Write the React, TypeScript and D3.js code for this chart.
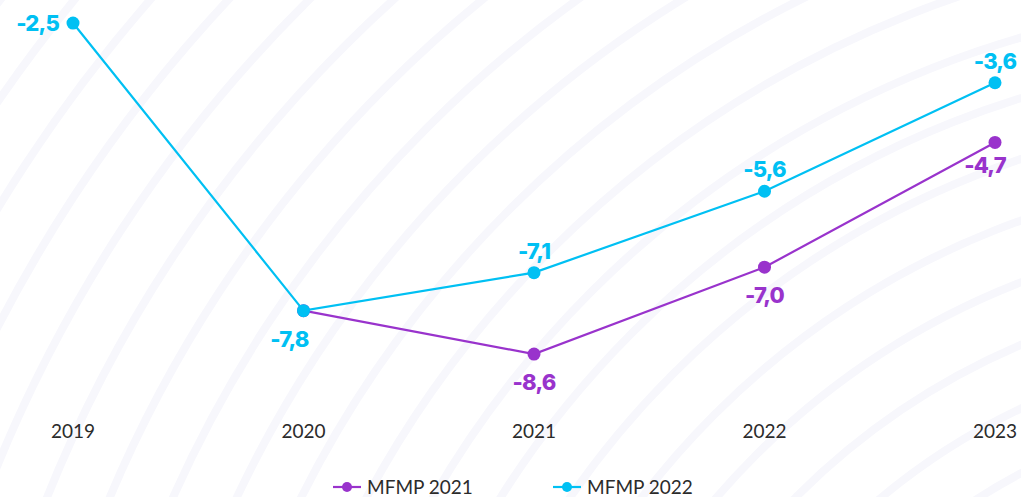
import * as d3 from "d3";
import React, { useEffect, useRef } from "react";

const years = ["2019", "2020", "2021", "2022", "2023"];
const mfmp2021: (number | null)[] = [null, -7.8, -8.6, -7.0, -4.7];
const mfmp2022: (number | null)[] = [-2.5, -7.8, -7.1, -5.6, -3.6];
const seriesNames = ["MFMP 2021", "MFMP 2022"];
// label placement per point: "l" left, "a" above, "b" below, "n" none
const pos2021 = ["n", "n", "b", "b", "b"];
const pos2022 = ["l", "b", "a", "a", "a"];

const width = 1021;
const height = 497;
const cyan = "#00c0f3";
const purple = "#9933cc";

const App = () => {
  const ref = useRef<HTMLDivElement>(null);

  useEffect(() => {
    const x = d3.scalePoint().domain(years).range([73, 995]);
    const y = d3.scaleLinear().domain([-10, 0]).range([430, -112.6]);

    const svg = d3.create("svg").attr("width", width).attr("height", height)
      .style("display", "block");

    svg.append("rect").attr("width", width).attr("height", height).attr("fill", "#fff");

    // faint background arcs
    const bg = svg.append("g");
    d3.range(0, 22).forEach(i => {
      bg.append("circle")
        .attr("cx", 1300).attr("cy", 1000)
        .attr("r", 480 + i * 58)
        .attr("fill", "none")
        .attr("stroke", "#f7f7fc")
        .attr("stroke-width", 8);
    });

    // x labels
    svg.append("g").selectAll("text").data(years).join("text")
      .attr("x", d => x(d)!)
      .attr("y", 438)
      .attr("text-anchor", "middle")
      .attr("fill", "#2b2b2b")
      .style("font-family", "Lato, sans-serif")
      .style("font-size", "19px")
      .text(d => d);

    const series = [
      { name: seriesNames[0], vals: mfmp2021, color: purple, pos: pos2021 },
      { name: seriesNames[1], vals: mfmp2022, color: cyan, pos: pos2022 },
    ];

    const line = d3.line<number | null>()
      .defined(d => d !== null)
      .x((_, i) => x(years[i])!)
      .y(d => y(d as number));

    series.forEach(s => {
      svg.append("path")
        .attr("d", line(s.vals))
        .attr("fill", "none")
        .attr("stroke", s.color)
        .attr("stroke-width", 2.2);

      s.vals.forEach((v, i) => {
        if (v === null) return;
        svg.append("circle")
          .attr("cx", x(years[i])!)
          .attr("cy", y(v))
          .attr("r", 6.5)
          .attr("fill", s.color);
      });
    });

    series.forEach(s => {
      s.vals.forEach((v, i) => {
        const p = s.pos[i];
        if (v === null || p === "n") return;
        const cx = x(years[i])!;
        const cy = y(v);
        let tx = cx, ty = cy, anchor = "middle";
        if (p === "l") { tx = cx - 14; ty = cy + 8; anchor = "end"; }
        if (p === "a") { ty = cy - 14; }
        if (p === "b") { ty = cy + 36; }
        if (i === 1 && p === "b") tx = cx - 14;
        if (i === 4 && p === "b") { tx = cx - 10; ty = cy + 31; }
        svg.append("text")
          .attr("x", tx).attr("y", ty)
          .attr("text-anchor", anchor)
          .attr("fill", s.color)
          .style("font-family", "Inter, sans-serif")
          .style("font-weight", 800)
          .style("font-size", "22px")
          .style("letter-spacing", "-0.8px")
          .text(d3.format(".1f")(v).replace("−", "-").replace(".", ","));
      });
    });

    // legend
    const legendX = [333, 553];
    series.forEach((s, i) => {
      const g = svg.append("g").attr("transform", `translate(${legendX[i]},487)`);
      g.append("line").attr("x1", 0).attr("x2", 28).attr("stroke", s.color).attr("stroke-width", 2.2);
      g.append("circle").attr("cx", 14).attr("r", 5).attr("fill", s.color);
      g.append("text")
        .attr("x", 34).attr("y", 7)
        .attr("fill", "#2b2b2b")
        .style("font-family", "Lato, sans-serif")
        .style("font-size", "19px")
        .text(s.name);
    });

    if (ref.current) {
      ref.current.innerHTML = "";
      ref.current.appendChild(svg.node()!);
    }
  }, []);

  return <div ref={ref} style={{ position: "absolute", left: 0, top: 0 }}></div>;
};

export default App;
